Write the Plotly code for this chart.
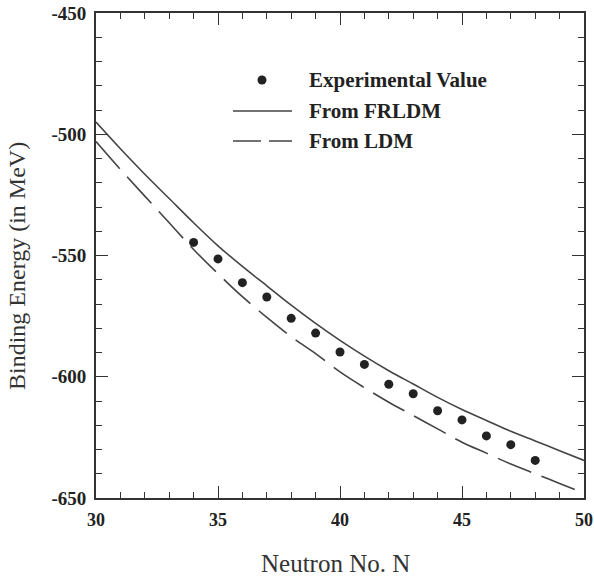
import plotly.graph_objects as go

# ---- data ----
n_exp = [34, 35, 36, 37, 38, 39, 40, 41, 42, 43, 44, 45, 46, 47, 48]
be_exp = [-544.6, -551.4, -561.2, -567.1, -575.9, -582.0, -589.8, -594.9,
          -603.1, -607.0, -614.0, -617.8, -624.4, -628.0, -634.5]

n_model = [30, 31, 32, 33, 34, 35, 36, 37, 38, 39, 40,
           41, 42, 43, 44, 45, 46, 47, 48, 49, 50]
be_frldm = [-495.0, -506.0, -516.5, -526.5, -536.5, -546.0, -554.5, -562.5,
            -570.5, -578.0, -585.0, -591.5, -597.5, -603.0, -608.5, -613.5,
            -618.0, -622.5, -626.5, -630.5, -634.5]
be_ldm = [-503.0, -514.5, -525.5, -536.5, -547.5, -557.5, -567.0, -575.5,
          -583.5, -590.5, -598.0, -604.5, -610.5, -616.0, -621.5, -627.0,
          -631.5, -636.0, -640.0, -644.0, -648.0]

x_ticks = [30, 35, 40, 45, 50]
x_ticktext = ["30", "35", "40", "45", "50"]
y_ticks = [-450, -500, -550, -600, -650]
y_ticktext = ["-450", "-500", "-550", "-600", "-650"]

legend_labels = ["Experimental Value", "From FRLDM", "From LDM"]
x_title = "Neutron No. N"
y_title = "Binding Energy (in MeV)"

INK = "#333333"
SERIF = "Liberation Serif, Times New Roman, serif"

fig = go.Figure()
fig.add_trace(go.Scatter(x=n_model, y=be_frldm, mode="lines",
                         line=dict(color="#444444", width=1.6, shape="spline"),
                         name=legend_labels[1]))
fig.add_trace(go.Scatter(x=n_model, y=be_ldm, mode="lines",
                         line=dict(color="#444444", width=1.6, dash="36px,11px", shape="spline"),
                         name=legend_labels[2]))
fig.add_trace(go.Scatter(x=n_exp, y=be_exp, mode="markers",
                         marker=dict(color="#222222", size=9),
                         name=legend_labels[0]))

# ---- page geometry (body margin removed by post_script below) ----
W, H = 594, 578
L, T = 96, 13
R = W - 584
B = H - 498
pw, ph = W - L - R, H - T - B


def px(xp):
    return (xp - L) / pw


def py(yp):
    return 1 - (yp - T) / ph


leg_rows = [80, 111, 141]
fig.add_shape(type="circle", xref="paper", yref="paper",
              xsizemode="pixel", ysizemode="pixel",
              xanchor=px(262), yanchor=py(leg_rows[0]),
              x0=-4.5, x1=4.5, y0=-4.5, y1=4.5,
              fillcolor="#222222", line=dict(width=0))
fig.add_shape(type="line", xref="paper", yref="paper",
              x0=px(233), x1=px(292), y0=py(leg_rows[1]), y1=py(leg_rows[1]),
              line=dict(color="#444444", width=1.6))
fig.add_shape(type="line", xref="paper", yref="paper",
              x0=px(233), x1=px(292), y0=py(leg_rows[2]), y1=py(leg_rows[2]),
              line=dict(color="#444444", width=1.6, dash="28px,8px"))
for lab, yr in zip(legend_labels, leg_rows):
    fig.add_annotation(text=lab, xref="paper", yref="paper", x=px(307), y=py(yr),
                       xanchor="left", yanchor="middle", showarrow=False,
                       font=dict(family=SERIF, size=21, color="#222222", weight="bold"))

# axis titles
fig.add_annotation(text=x_title, xref="paper", yref="paper", x=px(335), y=py(563),
                   xanchor="center", yanchor="middle", showarrow=False,
                   font=dict(family=SERIF, size=25, color="#333333"))
fig.add_annotation(text=y_title, xref="paper", yref="paper", x=px(17), y=py(266),
                   xanchor="center", yanchor="middle", showarrow=False, textangle=-90,
                   borderpad=0,
                   font=dict(family=SERIF, size=24, color="#333333"))

axis_common = dict(
    showgrid=False, zeroline=False, showline=True, linecolor=INK, linewidth=1.8,
    mirror="ticks", ticks="inside", ticklen=12, tickwidth=1.3, tickcolor=INK,
    automargin=False, ticklabelstandoff=4, ticklabeloverflow="allow",
)

fig.update_layout(
    width=W, height=H,
    margin=dict(l=L, r=R, t=T, b=B),
    paper_bgcolor="white", plot_bgcolor="white",
    showlegend=False,
    xaxis=dict(range=[30, 50], tickvals=x_ticks, ticktext=x_ticktext,
               minor=dict(dtick=1, ticks="inside", ticklen=6, tickwidth=1.2, tickcolor=INK),
               tickfont=dict(family=SERIF, size=18, color="#222222", weight="bold"),
               **axis_common),
    yaxis=dict(range=[-650, -450], tickvals=y_ticks, ticktext=y_ticktext,
               minor=dict(dtick=10, ticks="inside", ticklen=6, tickwidth=1.2, tickcolor=INK),
               tickfont=dict(family=SERIF, size=19, color="#222222", weight="bold"),
               **axis_common),
)

fig.write_html("out.html", config={"displayModeBar": False},
               post_script="document.body.style.margin='0px';")
